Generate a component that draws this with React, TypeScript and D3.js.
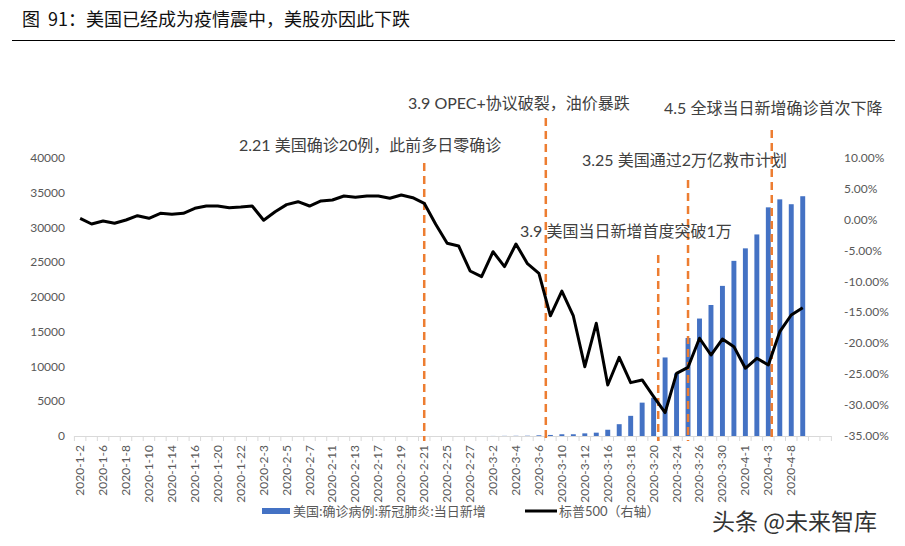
import React from "react";
import * as d3 from "d3";

const dates = [
  "2020-1-2", "2020-1-3", "2020-1-6", "2020-1-7", "2020-1-8", "2020-1-9", "2020-1-10",
  "2020-1-13", "2020-1-14", "2020-1-15", "2020-1-16", "2020-1-17", "2020-1-20", "2020-1-21",
  "2020-1-22", "2020-1-23", "2020-2-3", "2020-2-4", "2020-2-5", "2020-2-6", "2020-2-7",
  "2020-2-10", "2020-2-11", "2020-2-12", "2020-2-13", "2020-2-14", "2020-2-17", "2020-2-18",
  "2020-2-19", "2020-2-20", "2020-2-21", "2020-2-24", "2020-2-25", "2020-2-26", "2020-2-27",
  "2020-2-28", "2020-3-2", "2020-3-3", "2020-3-4", "2020-3-5", "2020-3-6", "2020-3-9",
  "2020-3-10", "2020-3-11", "2020-3-12", "2020-3-13", "2020-3-16", "2020-3-17", "2020-3-18",
  "2020-3-19", "2020-3-20", "2020-3-23", "2020-3-24", "2020-3-25", "2020-3-26", "2020-3-27",
  "2020-3-30", "2020-3-31", "2020-4-1", "2020-4-2", "2020-4-3", "2020-4-7", "2020-4-8",
  "2020-4-9", "2020-4-10", "2020-4-13",
];

// 美国:确诊病例:新冠肺炎:当日新增
const usNewCases = [
  0, 0, 0, 0, 0, 0, 0, 0, 0, 0, 0, 0, 0, 0, 0, 0,
  0, 0, 0, 0, 0, 0, 0, 0, 0, 0, 0, 0, 0, 0, 0, 0, 0, 0, 0, 0,
  10, 20, 30, 40, 100, 150, 250, 250, 380, 480, 900, 1700, 2900, 4800, 5500,
  11300, 9000, 14100, 16900, 18850, 21600, 25200, 27000, 29000, 32900,
  34050, 33350, 34500, null, null,
];

// 标普500 累计涨跌幅 (%)
const sp500 = [
  0.24, -0.68, -0.2, -0.57, -0.04, 0.66, 0.24, 1.05, 0.89, 1.05, 1.86, 2.23, 2.23, 1.96,
  2.07, 2.23, -0.08, 1.31, 2.45, 2.93, 2.23, 3.04, 3.2, 3.85, 3.64, 3.85, 3.85, 3.48,
  4.01, 3.57, 2.67, -0.73, -3.81, -4.24, -8.29, -9.21, -5.17, -7.59, -3.92, -7.1, -8.66,
  -15.55, -11.55, -15.57, -23.78, -16.76, -26.74, -22.26, -26.36, -25.93, -28.63, -31.22,
  -24.85, -23.88, -19.18, -21.89, -19.3, -20.54, -24.04, -22.42, -23.51, -18.11, -15.41,
  -14.23, null, null,
];

const leftTicks = [0, 5000, 10000, 15000, 20000, 25000, 30000, 35000, 40000];
const rightTicks = [10, 5, 0, -5, -10, -15, -20, -25, -30, -35];

const title = "图  91：美国已经成为疫情震中，美股亦因此下跌";
const barLegend = "美国:确诊病例:新冠肺炎:当日新增";
const lineLegend = "标普500（右轴）";

const annoTexts = [
  "2.21 美国确诊20例，此前多日零确诊",
  "3.9 OPEC+协议破裂，油价暴跌",
  "3.9 美国当日新增首度突破1万",
  "3.25 美国通过2万亿救市计划",
  "4.5 全球当日新增确诊首次下降",
];
const annoDates = ["2020-2-21", "2020-3-9", "2020-3-20", "2020-3-25", "2020-4-3"];

const latin = "Lato, 'Noto Sans CJK SC', sans-serif";
const cjk = "'Noto Sans CJK SC', sans-serif";

export default function App() {
  const W = 905;
  const H = 546;
  const plot = { left: 74.4, right: 831.4, top: 158, bottom: 436 };

  const x = d3.scaleBand<string>().domain(dates).range([plot.left, plot.right]).padding(0);
  const bw = x.bandwidth();
  const cx = (d: string) => (x(d) as number) + bw / 2;
  const yL = d3.scaleLinear().domain([0, 40000]).range([plot.bottom, plot.top]);
  const yR = d3.scaleLinear().domain([-35, 10]).range([plot.bottom, plot.top]);

  const line = d3
    .line<number | null>()
    .defined((d) => d != null)
    .x((_, i) => cx(dates[i]))
    .y((d) => yR(d as number));

  const barW = bw * 0.43;

  // layout of annotation callouts (offset in categories, line top, text anchor)
  const annoLayout = [
    { off: 0, top: 163, tx: 239, ty: 151 },
    { off: -0.4, top: 118, tx: 408, ty: 109 },
    { off: 0.4, top: 255, tx: 520, ty: 237 },
    { off: 0, top: 180, tx: 582, ty: 166 },
    { off: 0.3, top: 130, tx: 664, ty: 114 },
  ];

  const boundaries = dates.map((d) => x(d) as number).concat([plot.right]);

  return (
    <svg width={W} height={H} style={{ position: "absolute", left: 0, top: 0, background: "#fff" }}>
      <text x={22} y={26} fontFamily={cjk} fontSize={18} fill="#111" style={{ whiteSpace: "pre" }}>
        {title}
      </text>
      <line x1={12} x2={895} y1={40.5} y2={40.5} stroke="#000" strokeWidth={1} />

      {/* bars */}
      {usNewCases.map((v, i) =>
        v == null || v <= 0 ? null : (
          <rect
            key={"b" + i}
            x={cx(dates[i]) - barW / 2}
            y={yL(v)}
            width={barW}
            height={plot.bottom - yL(v)}
            fill="#4472C4"
          />
        )
      )}

      {/* x axis */}
      <line x1={plot.left} x2={plot.right} y1={plot.bottom + 0.5} y2={plot.bottom + 0.5} stroke="#d9d9d9" />
      {boundaries.map((bx, i) => (
        <line key={"t" + i} x1={bx} x2={bx} y1={plot.bottom} y2={plot.bottom + 5} stroke="#d9d9d9" />
      ))}
      {dates.map((d, i) =>
        i % 2 === 0 && i < 63 ? (
          <text
            key={"xl" + i}
            transform={`translate(${cx(d) + 4},${plot.bottom + 9}) rotate(-90)`}
            textAnchor="end"
            fontFamily={latin}
            fontSize={12}
            fill="#595959"
          >
            {d}
          </text>
        ) : null
      )}

      {/* left axis */}
      {leftTicks.map((t) => (
        <text key={"l" + t} x={65} y={yL(t) + 4} textAnchor="end" fontFamily={latin} fontSize={12} fill="#595959">
          {t}
        </text>
      ))}
      {/* right axis */}
      {rightTicks.map((t) => (
        <text key={"r" + t} x={844} y={yR(t) + 4} fontFamily={latin} fontSize={12} fill="#595959">
          {t.toFixed(2) + "%"}
        </text>
      ))}

      {/* annotation dashed lines */}
      {annoDates.map((d, i) => {
        const ax = cx(d) + annoLayout[i].off * bw;
        return (
          <line
            key={"a" + i}
            x1={ax}
            x2={ax}
            y1={annoLayout[i].top}
            y2={plot.bottom + 5}
            stroke="#ED7D31"
            strokeWidth={2.5}
            strokeDasharray="8,5"
          />
        );
      })}

      {/* S&P line */}
      <path d={line(sp500) || ""} fill="none" stroke="#000" strokeWidth={3} strokeLinejoin="round" />

      {annoTexts.map((t, i) => (
        <text key={"at" + i} x={annoLayout[i].tx} y={annoLayout[i].ty} fontFamily={latin} fontSize={16} fill="#404040">
          {t}
        </text>
      ))}

      {/* legend */}
      <rect x={262} y={508} width={28} height={6} fill="#4472C4" />
      <text x={293} y={516} fontFamily={cjk} fontSize={13} fill="#595959">
        {barLegend}
      </text>
      <line x1={525} x2={557} y1={511} y2={511} stroke="#000" strokeWidth={3} />
      <text x={559} y={516} fontFamily={latin} fontSize={13} fill="#595959">
        {lineLegend}
      </text>

      <text x={712} y={530} fontFamily={cjk} fontSize={23} fill="#333">
        头条 @未来智库
      </text>
    </svg>
  );
}
